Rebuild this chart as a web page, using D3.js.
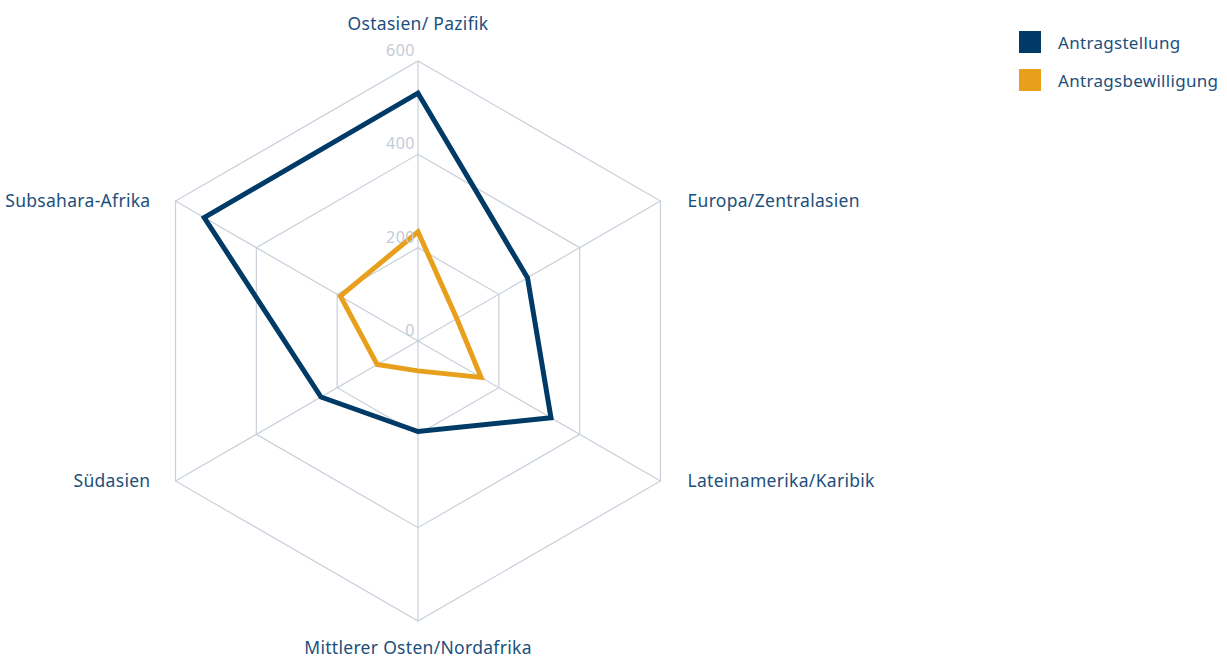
<!DOCTYPE html>
<html>
<head>
<meta charset="utf-8">
<script src="https://cdn.jsdelivr.net/npm/d3@7"></script>
<style>
  html, body { margin: 0; padding: 0; background: #fff; }
  svg { display: block; font-family: "Noto Sans", "Open Sans", sans-serif; }
</style>
</head>
<body>
<svg id="chart" width="1227" height="658"></svg>
<script>
const categories = ["Ostasien/ Pazifik", "Europa/Zentralasien", "Lateinamerika/Karibik", "Mittlerer Osten/Nordafrika", "Südasien", "Subsahara-Afrika"];
const seriesNames = ["Antragstellung", "Antragsbewilligung"];
const antragstellung = [531, 271, 329, 194, 240, 529];
const antragsbewilligung = [234, 96, 156, 64, 101, 192];
const tickValues = [0, 200, 400, 600];
const colors = ["#003a66", "#e8a01c"];

const svg = d3.select("#chart");
const cx = 418, cy = 341, R = 280;
const r = d3.scaleLinear().domain([0, 600]).range([0, R]);
const angle = d3.scalePoint().domain(categories).range([0, 2 * Math.PI * (categories.length - 1) / categories.length]);
const pt = (cat, v) => {
  const a = angle(cat);
  return [cx + r(v) * Math.sin(a), cy - r(v) * Math.cos(a)];
};

const grid = svg.append("g");
const ringLevels = tickValues.filter(t => t > 0);
grid.selectAll("polygon.ring").data(ringLevels).join("polygon")
  .attr("class", "ring")
  .attr("points", t => categories.map(c => pt(c, t).join(",")).join(" "))
  .attr("fill", "none").attr("stroke", "#c8d0da").attr("stroke-width", 1.2);
grid.selectAll("line.spoke").data(categories).join("line")
  .attr("class", "spoke")
  .attr("x1", cx).attr("y1", cy)
  .attr("x2", c => pt(c, 600)[0]).attr("y2", c => pt(c, 600)[1])
  .attr("stroke", "#c8d0da").attr("stroke-width", 1.2);

const series = [antragstellung, antragsbewilligung];
const line = d3.line().curve(d3.curveLinearClosed);
svg.append("g").selectAll("path").data(series).join("path")
  .attr("d", vals => line(categories.map((c, i) => pt(c, vals[i]))))
  .attr("fill", "none")
  .attr("stroke", (d, i) => colors[i])
  .attr("stroke-width", 5)
  .attr("stroke-linejoin", "miter");

svg.append("g").selectAll("text").data(tickValues).join("text")
  .attr("x", cx - 3)
  .attr("y", t => cy - r(t) - 5)
  .attr("text-anchor", "end")
  .attr("fill", "#c3ccd7")
  .attr("font-size", 16)
  .attr("letter-spacing", 0.5)
  .text(d => d);

const labelColor = "#1d4f7c";
const lab = svg.append("g");
categories.forEach((c, i) => {
  const [x, y] = pt(c, 600);
  const a = angle(c);
  const s = Math.sin(a), co = Math.cos(a);
  let anchor = "middle", dx = 0, dy = 0;
  if (Math.abs(s) < 0.01) {
    dy = co > 0 ? -37 : 27;
  } else if (s > 0) { anchor = "start"; dx = 27; }
  else { anchor = "end"; dx = -25; }
  lab.append("text")
    .attr("x", x + dx).attr("y", y + dy)
    .attr("dy", "0.35em")
    .attr("text-anchor", anchor)
    .attr("fill", labelColor)
    .attr("font-size", 17.5)
    .attr("letter-spacing", 0.3)
    .text(c);
});

const legend = svg.append("g").attr("transform", "translate(1019,31)");
const li = legend.selectAll("g").data(seriesNames).join("g")
  .attr("transform", (d, i) => `translate(0,${i * 38})`);
li.append("rect").attr("width", 22).attr("height", 22).attr("fill", (d, i) => colors[i]);
li.append("text").attr("x", 39).attr("y", 12).attr("dy", "0.35em")
  .attr("fill", labelColor).attr("font-size", 17).attr("letter-spacing", 0.3).text(d => d);
</script>
</body>
</html>
